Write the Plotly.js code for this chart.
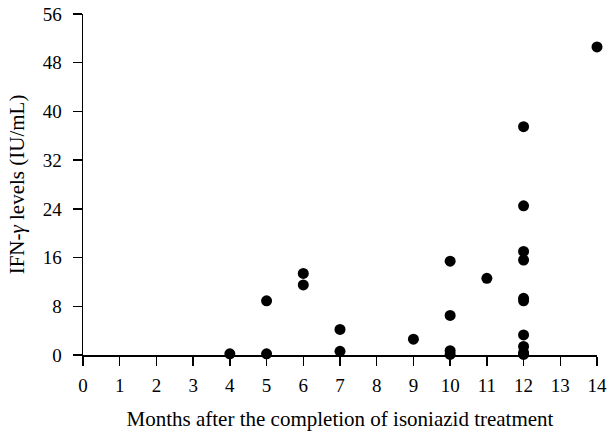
<!DOCTYPE html>
<html>
<head>
<meta charset="utf-8">
<script src="https://cdn.plot.ly/plotly-3.0.1.min.js"></script>
<style>html,body{margin:0;padding:0;background:#fff;}#chart{width:608px;height:431px;}</style>
</head>
<body>
<div id="chart"></div>
<script>
// Months after completion of isoniazid treatment
const months = [4, 5, 5, 6, 6, 7, 7, 9, 10, 10, 10, 10, 11, 12, 12, 12, 12, 12, 12, 12, 12, 12, 12, 14];
// IFN-gamma levels (IU/mL)
const ifnLevels = [0.2, 8.9, 0.2, 13.4, 11.5, 4.2, 0.6, 2.6, 15.4, 6.5, 0.7, 0.1, 12.6, 37.5, 24.5, 17.0, 15.6, 9.3, 8.9, 3.3, 1.4, 0.4, 0.1, 50.6];
const xTicks = [0,1,2,3,4,5,6,7,8,9,10,11,12,13,14];
const yTicks = [0,8,16,24,32,40,48,56];

const fam = '"Liberation Serif", "DejaVu Serif", serif';
const tickFont = {family: fam, size: 19, color: '#000'};
const titleFont = {family: fam, size: 21, color: '#000'};

Plotly.newPlot('chart', [{
  x: months, y: ifnLevels, type: 'scatter', mode: 'markers',
  marker: {size: 11, color: '#000'}, cliponaxis: false, hoverinfo: 'skip'
}], {
  width: 608, height: 431,
  margin: {l: 83, r: 11, t: 14, b: 76},
  paper_bgcolor: '#fff', plot_bgcolor: '#fff',
  font: tickFont,
  showlegend: false,
  xaxis: {
    range: [0, 14], tickvals: xTicks, ticktext: xTicks.map(String),
    showgrid: false, zeroline: false, showline: true, linecolor: '#000', linewidth: 1.5,
    ticks: 'outside', ticklen: 9, tickwidth: 1.5, tickcolor: '#000',
    tickfont: tickFont, ticklabelstandoff: 4,
    title: {text: 'Months after the completion of isoniazid treatment', font: titleFont, standoff: 16}
  },
  yaxis: {
    range: [0, 56], tickvals: yTicks, ticktext: yTicks.map(String),
    showgrid: false, zeroline: false, showline: true, linecolor: '#000', linewidth: 1.5,
    ticks: 'outside', ticklen: 9, tickwidth: 1.5, tickcolor: '#000',
    tickfont: tickFont, ticklabelstandoff: 7,
    title: {text: 'IFN-<i>γ</i> levels (IU/mL)', font: titleFont, standoff: 12}
  }
}, {staticPlot: true});
</script>
</body>
</html>
